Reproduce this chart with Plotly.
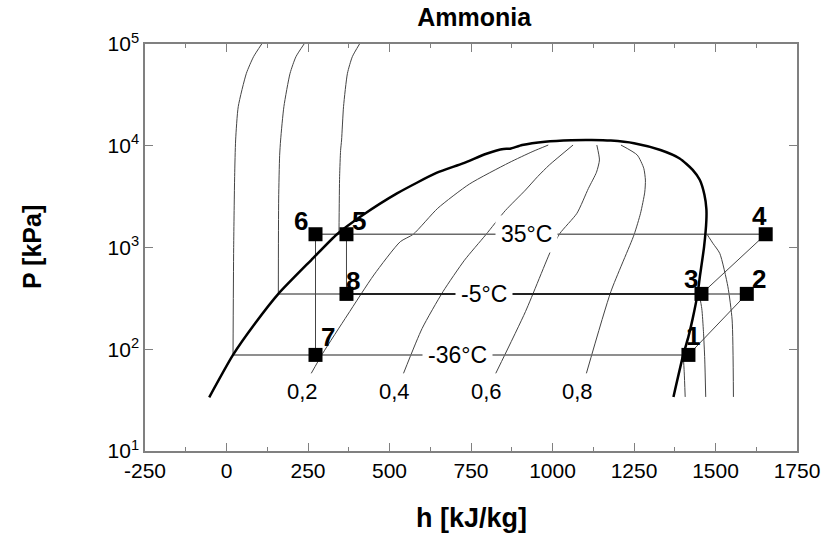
import math
import plotly.graph_objects as go

# ---------------- data ----------------
# saturation dome (h in kJ/kg, P in kPa)
dome_h = [-53, 20, 88, 159, 260, 339, 415, 523, 644, 725, 795, 826, 850, 870, 907, 977,
          1058, 1120, 1179, 1250, 1331, 1390, 1430, 1452, 1466, 1472, 1472, 1465, 1452,
          1445, 1430, 1417, 1401, 1371]
dome_p = [33.7, 88, 180, 350, 753, 1350, 2050, 3400, 5400, 6710, 8300, 8940, 9300, 9350,
          10160, 10970, 11350, 11400, 11250, 10600, 9080, 7500, 5800, 4600, 3300, 2400,
          1865, 1020, 516, 350, 200, 133, 88, 34]

# isotherms in the compressed-liquid region
liq_m36_h = [20, 22, 25, 28, 36, 61, 83, 108]
liq_m36_p = [88, 1000, 5000, 11400, 24200, 51500, 75000, 100000]
liq_m5_h = [159, 160, 163, 166, 176, 195, 213, 238]
liq_m5_p = [350, 3000, 8000, 11400, 24200, 51500, 75000, 100000]
liq_35_h = [345, 347, 350, 353, 359, 371, 386, 408]
liq_35_p = [1350, 5000, 9000, 11400, 24200, 51500, 75000, 100000]

# isotherms in the superheated region
sh_35_h = [1474, 1492, 1513, 1538, 1551, 1555]
sh_35_p = [1350, 1100, 877, 412, 194, 34]
sh_m5_h = [1450, 1458, 1463, 1467, 1470]
sh_m5_p = [350, 250, 150, 80, 34]
sh_m36_h = [1401, 1404, 1407]
sh_m36_p = [88, 60, 34]

# constant-quality lines
q02_h = [260, 295, 371, 452, 533, 573, 648, 745, 866, 940, 987]
q02_p = [58, 91, 217, 537, 1140, 1350, 2430, 4200, 6800, 8800, 10160]
q04_h = [543, 600, 664, 730, 795, 855, 917, 955, 990, 1063]
q04_p = [58, 160, 368, 750, 1330, 2300, 3670, 5000, 6460, 10160]
q06_h = [826, 917, 998, 1023, 1075, 1110, 1135, 1144, 1136]
q06_p = [58, 234, 982, 1380, 2170, 3800, 5500, 7250, 10160]
q08_h = [1104, 1179, 1250, 1270, 1283, 1285, 1280, 1260, 1210]
q08_p = [58, 368, 1330, 2170, 3500, 4600, 6000, 8100, 10160]
quality_labels = ["0,2", "0,4", "0,6", "0,8"]

# constant-temperature (saturation) lines
sat_labels = ["35°C", "-5°C", "-36°C"]
sat_p = [1350, 350, 88]
sat_h_start = [273, 159, 20]
sat_h_end = [1654, 1596, 1417]
sat_label_h = [920, 790, 708]

# refrigeration cycle state points
state_names = ["1", "2", "3", "4", "5", "6", "7", "8"]
state_h = [1417, 1596, 1457, 1654, 368, 273, 273, 368]
state_p = [88, 350, 350, 1350, 1350, 1350, 88, 350]

x_ticks = [-250, 0, 250, 500, 750, 1000, 1250, 1500, 1750]
x_ticktext = ["-250", "0", "250", "500", "750", "1000", "1250", "1500", "1750"]
y_ticks = [10, 100, 1000, 10000, 100000]
y_ticktext = ["10<sup>1</sup>", "10<sup>2</sup>", "10<sup>3</sup>", "10<sup>4</sup>", "10<sup>5</sup>"]

# ---------------- figure ----------------
FONT = "Arial, Liberation Sans, sans-serif"
THIN = dict(color="#444444", width=1)
GRAY = dict(color="#6a6a6a", width=1.5)

fig = go.Figure()

def add_line(h, p, line, shape="linear"):
    fig.add_trace(go.Scatter(x=h, y=p, mode="lines", line=dict(shape=shape, **line),
                             hoverinfo="skip", showlegend=False))

for h, p in [(liq_m36_h, liq_m36_p), (liq_m5_h, liq_m5_p), (liq_35_h, liq_35_p),
             (sh_35_h, sh_35_p), (sh_m5_h, sh_m5_p), (sh_m36_h, sh_m36_p),
             (q02_h, q02_p), (q04_h, q04_p), (q06_h, q06_p), (q08_h, q08_p)]:
    add_line(h, p, dict(THIN, smoothing=0.6), shape="spline")

# saturation temperature lines
for hs, he, p in zip(sat_h_start, sat_h_end, sat_p):
    add_line([hs, he], [p, p], GRAY)

# cycle connection lines (indices into state arrays)
for a, b in [(0, 1), (2, 3), (5, 6), (4, 7)]:
    add_line([state_h[a], state_h[b]], [state_p[a], state_p[b]], THIN)
add_line([state_h[7], state_h[2]], [state_p[7], state_p[2]], dict(color="#222222", width=2))

# dome
add_line(dome_h, dome_p, dict(color="black", width=2.5, smoothing=0.6), shape="spline")

# state markers
fig.add_trace(go.Scatter(x=state_h, y=state_p, mode="markers",
                         marker=dict(symbol="square", size=14, color="black"),
                         hoverinfo="skip", showlegend=False))

annotations = []
# state labels (pixel offsets)
offsets = {"1": (5, 19), "2": (12, 15), "3": (-10, 15), "4": (-6, 18),
           "5": (13, 13), "6": (-15, 13), "7": (12, 18), "8": (7, 13)}
for n, h, p in zip(state_names, state_h, state_p):
    dx, dy = offsets[n]
    annotations.append(dict(x=h, y=math.log10(p), xref="x", yref="y",
                            xanchor="center", yanchor="middle",
                            text=f"<b>{n}</b>", showarrow=False,
                            xshift=dx, yshift=dy,
                            font=dict(family=FONT, size=26, color="black")))
# isotherm labels
for t, h, p in zip(sat_labels, sat_label_h, sat_p):
    annotations.append(dict(x=h, y=math.log10(p), xref="x", yref="y", text=t,
                            xanchor="center", yanchor="middle",
                            showarrow=False, bgcolor="white", borderpad=5,
                            font=dict(family=FONT, size=23, color="black")))
# quality labels
for t, hs, ps in zip(quality_labels, [q02_h, q04_h, q06_h, q08_h], [q02_p, q04_p, q06_p, q08_p]):
    annotations.append(dict(x=hs[0], y=math.log10(ps[0]), xref="x", yref="y", text=t,
                            xanchor="center", yanchor="middle",
                            showarrow=False, xshift=-9, yshift=-18,
                            font=dict(family=FONT, size=22, color="black")))
# axis titles
annotations.append(dict(x=0.5, y=-0.165, xref="paper", yref="paper", text="<b>h [kJ/kg]</b>",
                        xanchor="center", yanchor="middle",
                        showarrow=False, font=dict(family=FONT, size=27, color="black")))
annotations.append(dict(x=-0.174, y=0.5, xref="paper", yref="paper", text="<b>P [kPa]</b>",
                        xanchor="center", yanchor="middle",
                        showarrow=False, textangle=-90,
                        font=dict(family=FONT, size=25, color="black")))

axis_common = dict(showgrid=False, zeroline=False, showline=True, linecolor="#808080",
                   linewidth=1.5, mirror="ticks", ticks="inside", tickcolor="#808080",
                   tickwidth=1.2, ticklen=8,
                   tickfont=dict(family=FONT, size=21, color="black"))

fig.update_layout(
    width=832, height=539,
    margin=dict(l=145, r=27, t=44, b=88),
    paper_bgcolor="white", plot_bgcolor="white",
    title=dict(text="<b>Ammonia</b>", x=0.505, xref="paper", y=1 - 17 / 539, yref="container",
               xanchor="center", yanchor="middle",
               font=dict(family=FONT, size=25, color="black")),
    xaxis=dict(range=[-250, 1750], tickvals=x_ticks, ticktext=x_ticktext,
               minor=dict(dtick=125, tick0=-250, ticks="inside", ticklen=4,
                          tickcolor="#808080", showgrid=False),
               **axis_common),
    yaxis=dict(type="log", range=[1, 5], tickvals=y_ticks, ticktext=y_ticktext,
               **axis_common),
    annotations=annotations,
)

fig.write_html("out.html")
